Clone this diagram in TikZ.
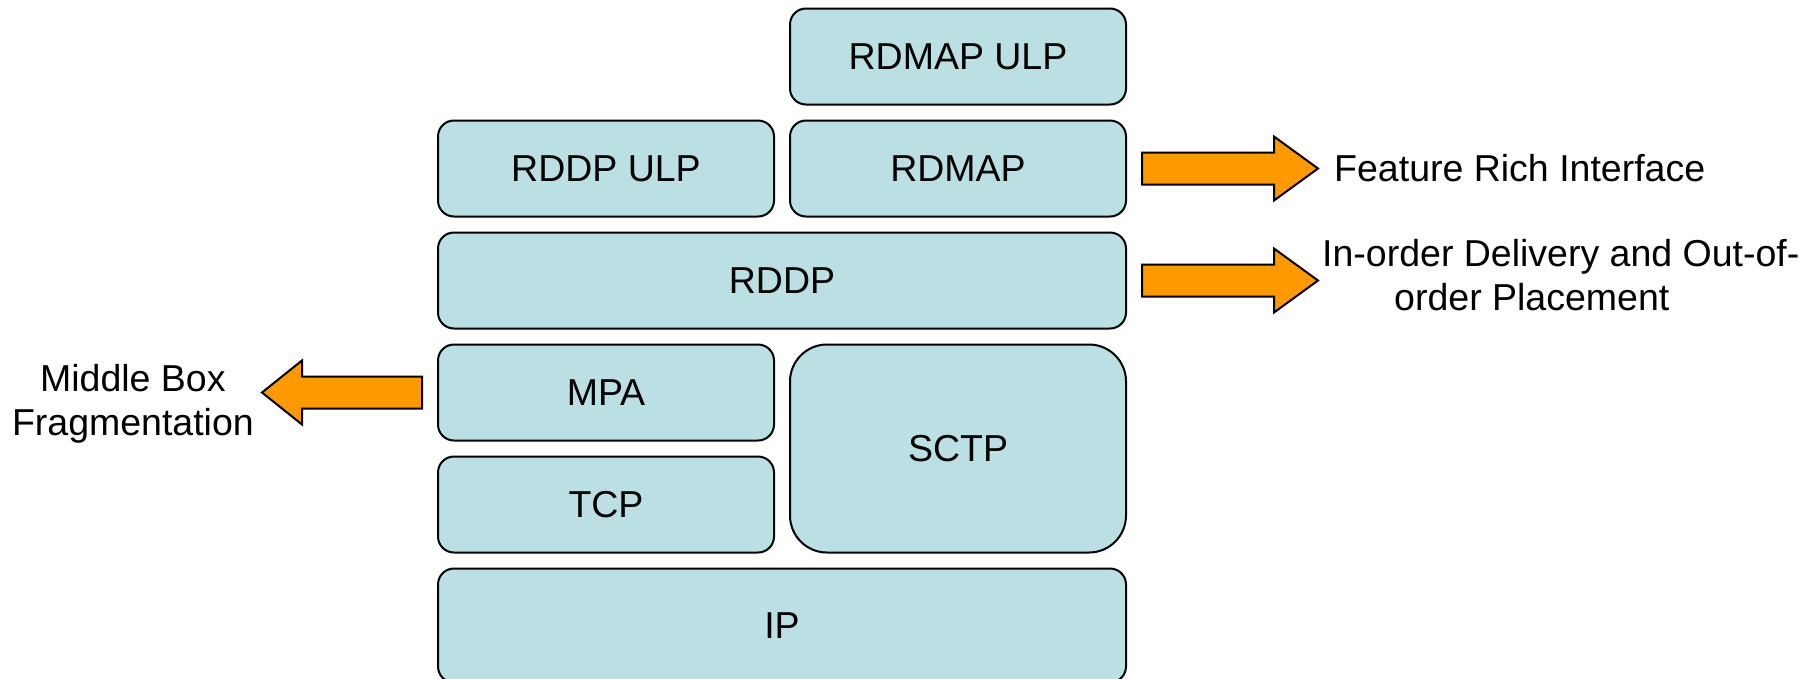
\documentclass[tikz,border=0pt]{standalone}
\usepackage{fontspec}
\setmainfont{Liberation Sans}
\usetikzlibrary{calc,positioning}
\definecolor{layerfill}{RGB}{187,224,227}
\definecolor{arroworange}{RGB}{255,153,0}

\begin{document}
\begin{tikzpicture}[x=1pt,y=1pt,
    layer/.style={draw=black, line width=2pt, fill=layerfill, rounded corners=16pt,
      minimum width=336pt, minimum height=96pt, inner sep=0pt, outer sep=0pt,
      font=\fontsize{37.5}{43}\selectfont},
    widelayer/.style={layer, minimum width=688pt},
    bigarrow/.style={draw=black, line width=2pt, fill=arroworange, line join=miter},
    sidelabel/.style={inner sep=0pt, font=\fontsize{37.5}{44}\selectfont}]
  \clip (0,0) rectangle (1812,-678);

  % the protocol stack
  \node[layer] (rdmapulp) at (958,-56.5) {RDMAP ULP};
  \node[layer, below=16pt of rdmapulp] (rdmap) {RDMAP};
  \node[layer, left=16pt of rdmap] (rddpulp) {RDDP ULP};
  \node[widelayer, below=16pt of rdmap.south east, anchor=north east] (rddp) {RDDP};
  \node[layer, below=16pt of rddp.south west, anchor=north west] (mpa) {MPA};
  \node[layer, below=16pt of mpa] (tcp) {TCP};
  \node[layer, rounded corners=37pt, minimum height=208pt,
    below=16pt of rddp.south east, anchor=north east] (sctp) {SCTP};
  \node[widelayer, minimum height=114pt, below=16pt of tcp.south west, anchor=north west] (ip) {IP};

  % block arrows out of the stack
  \foreach \n/\t in {rdmap/tipa, rddp/tipb}{
    \draw[bigarrow] ($(\n.east)+(16,16)$) -- ++(132,0) -- ++(0,16) -- ++(44,-32) coordinate (\t)
      -- ++(-44,-32) -- ++(0,16) -- ++(-132,0) -- cycle;
  }
  \draw[bigarrow] ($(mpa.west)+(-16,16)$) -- ++(-120,0) -- ++(0,16) -- ++(-40,-32) coordinate (tipc)
    -- ++(40,-32) -- ++(0,16) -- ++(120,0) -- cycle;

  \node[sidelabel, right=16pt of tipa] (feature) {Feature Rich Interface};
  \node[sidelabel, align=left, right=4pt of tipb, yshift=5pt] (placement)
    {In-order Delivery and Out-of-\\\hspace*{72pt}order Placement};
  \node[sidelabel, align=center, left=8pt of tipc, yshift=-11pt] (middlebox)
    {Middle Box\\Fragmentation};
\end{tikzpicture}
\end{document}
